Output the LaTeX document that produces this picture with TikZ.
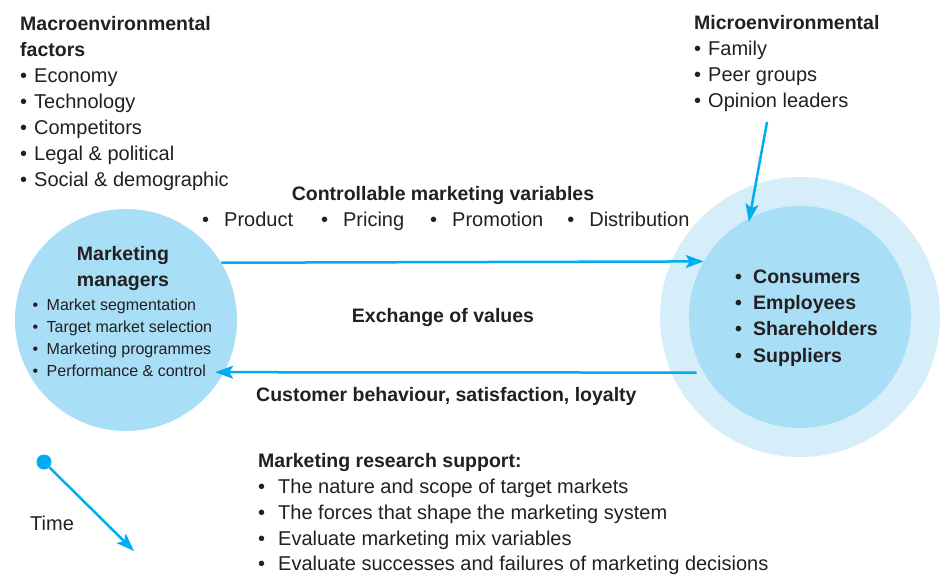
\documentclass[tikz,border=0pt]{standalone}
\usepackage{fontspec}
\setmainfont{Liberation Sans}
\usetikzlibrary{arrows.meta, shapes.geometric}
\definecolor{ink}{HTML}{231F20}
\definecolor{flowblue}{HTML}{00AEEF}
\definecolor{innerblue}{HTML}{A9DEF7}
\definecolor{outerblue}{HTML}{D5EEFA}
\newcommand{\itm}[2][14pt]{\makebox[#1][l]{\textbullet}#2}
\newcommand{\hd}[1]{{\fontsize{19.5}{26}\selectfont\bfseries #1}}
\tikzstyle{txt} = [inner sep=0pt, anchor=north west, align=left, text=ink, font=\fontsize{20}{26}\selectfont]
\tikzstyle{small} = [txt, font=\fontsize{16}{22}\selectfont]
\tikzstyle{ctxt} = [txt, anchor=north, align=center]
\tikzstyle{disc} = [circle, inner sep=0pt, fill=innerblue]
\tikzstyle{flow} = [line width=2.5pt, draw=flowblue, -{Stealth[length=18pt,width=13pt,inset=4pt]}]

\begin{document}
\begin{tikzpicture}[x=1pt, y=-1pt]
\useasboundingbox (0,0) rectangle (941,575);

% circles
\node at (126,320) (mgr) [disc, minimum size=222pt] {};
\node at (800,317) (env) [disc, fill=outerblue, minimum size=280pt] {};
\node at (800,317) (cons) [disc, minimum size=222pt] {};

% environment lists
\node at (20,11.8) (macro) [txt] {\strut\hd{Macroenvironmental}\\\hd{factors}\\
  \itm{Economy}\\\itm{Technology}\\\itm{Competitors}\\\itm{Legal \& political}\\\itm{Social \& demographic}};
\node at (694,10.8) (micro) [txt] {\strut\hd{Microenvironmental}\\
  \itm{Family}\\\itm{Peer groups}\\\itm{Opinion leaders}};

% marketing mix
\node at (443,181.8) (mix) [ctxt] {\strut\hd{Controllable marketing variables}};
\node at (202,207.8) (mixlist) [txt] {\strut\itm[22pt]{Product}\hspace{28pt}\itm[22pt]{Pricing}\hspace{26pt}\itm[22pt]{Promotion}\hspace{24pt}\itm[22pt]{Distribution}};

% managers
\node at (123,241.8) (mgrhead) [ctxt] {\strut\hd{Marketing}\\\hd{managers}};
\node at (32.5,295.3) (mgrlist) [small] {\strut\itm{Market segmentation}\\\itm{Target market selection}\\
  \itm{Marketing programmes}\\\itm{Performance \& control}};

% stakeholders
\node at (735,264.5) (conslist) [txt, font=\fontsize{19.5}{26.3}\selectfont\bfseries] {\strut\itm[18pt]{Consumers}\\\itm[18pt]{Employees}\\
  \itm[18pt]{Shareholders}\\\itm[18pt]{Suppliers}};

\node at (443,303.8) (exch) [ctxt] {\strut\hd{Exchange of values}};
\node at (256,382.8) (cust) [txt] {\strut\hd{Customer behaviour, satisfaction, loyalty}};

% research
\node at (258,449.8) (research) [txt, font=\fontsize{20}{25.7}\selectfont] {\strut\hd{Marketing research support:}\\
  \itm[20pt]{The nature and scope of target markets}\\\itm[20pt]{The forces that shape the marketing system}\\
  \itm[20pt]{Evaluate marketing mix variables}\\\itm[20pt]{Evaluate successes and failures of marketing decisions}};

% time
\node at (30,511.8) (time) [txt] {\strut Time};
\node at (44,462) (t0) [circle, fill=flowblue, minimum size=15pt, inner sep=0pt] {};
\coordinate (t1) at (134,551);

% connectors
\coordinate (opin) at (767,122);
\draw[flow, shorten >=-4pt] (opin) -- (cons.117);
\draw[flow] (mgr.31.5) -- (cons.150);
\draw[flow, shorten <=7pt, shorten >=-9pt] (cons.210) -- (mgr.-28);
\draw[flow] (t0) -- (t1);

\end{tikzpicture}
\end{document}
